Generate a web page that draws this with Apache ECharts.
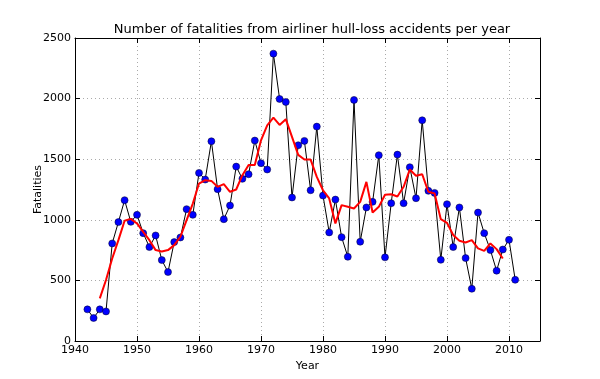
<!DOCTYPE html>
<html><head><meta charset="utf-8">
<script src="https://cdn.jsdelivr.net/npm/echarts@6/dist/echarts.min.js"></script>
<style>html,body{margin:0;padding:0;background:#fff}#c{width:600px;height:379px}</style>
</head><body><div id="c"></div>
<script>
var years = [1942,1943,1944,1945,1946,1947,1948,1949,1950,1951,1952,1953,1954,1955,1956,1957,1958,1959,1960,1961,1962,1963,1964,1965,1966,1967,1968,1969,1970,1971,1972,1973,1974,1975,1976,1977,1978,1979,1980,1981,1982,1983,1984,1985,1986,1987,1988,1989,1990,1991,1992,1993,1994,1995,1996,1997,1998,1999,2000,2001,2002,2003,2004,2005,2006,2007,2008,2009,2010,2011];
var fatalities = [261,190,261,244,805,981,1162,983,1041,890,775,871,668,569,816,854,1088,1041,1387,1332,1648,1253,1005,1118,1439,1338,1376,1654,1467,1415,2371,1997,1972,1184,1615,1651,1244,1769,1200,896,1167,857,695,1989,819,1102,1148,1533,690,1137,1538,1137,1434,1178,1821,1239,1222,670,1129,775,1102,684,431,1060,890,750,580,755,835,505];
var avgYears = [1944,1945,1946,1947,1948,1949,1950,1951,1952,1953,1954,1955,1956,1957,1958,1959,1960,1961,1962,1963,1964,1965,1966,1967,1968,1969,1970,1971,1972,1973,1974,1975,1976,1977,1978,1979,1980,1981,1982,1983,1984,1985,1986,1987,1988,1989,1990,1991,1992,1993,1994,1995,1996,1997,1998,1999,2000,2001,2002,2003,2004,2005,2006,2007,2008,2009];
var movingAvg = [352,503,681,832,992,1008,970,901,832,750,739,750,791,860,997,1134,1299,1327,1321,1272,1294,1231,1250,1368,1453,1453,1656,1780,1843,1783,1830,1684,1536,1497,1497,1354,1244,1176,970,1121,1107,1093,1148,1313,1060,1107,1207,1211,1192,1272,1415,1363,1376,1231,1217,1005,975,874,827,813,832,764,744,805,758,681];
var xTicks = [1940,1950,1960,1970,1980,1990,2000,2010];
var yTicks = [0,500,1000,1500,2000,2500];

var font = 'DejaVu Sans';
var chart = echarts.init(document.getElementById('c'), null, {renderer:'canvas'});
function pairs(xs, ys){ return xs.map(function(x,i){return [x, ys[i]];}); }
var axisCommon = {
  axisLine:{show:true,onZero:false,lineStyle:{color:'#000',width:1}},
  axisTick:{show:true,inside:true,length:5,lineStyle:{color:'#000'}}
};
chart.setOption({
  animation:false,
  title:{text:'Number of fatalities from airliner hull-loss accidents per year',left:307,top:18,textAlign:'center',
    textStyle:{fontFamily:font,fontSize:13,fontWeight:'normal',color:'#000'}},
  grid:{left:75,right:60,top:38,bottom:38},
  xAxis:[
    Object.assign({type:'value',min:1940,max:2015,interval:10,name:'Year',nameLocation:'middle',nameGap:19,
      nameTextStyle:{fontFamily:font,fontSize:11,color:'#000'},
      axisLabel:{fontFamily:font,fontSize:11,color:'#000',margin:4,showMaxLabel:false,
        formatter:function(v){return xTicks.indexOf(v)>=0?String(v):'';}},
      splitLine:{show:true,lineStyle:{color:'#aaa',type:[1,3],width:1}}}, axisCommon),
    Object.assign({type:'value',min:1940,max:2015,interval:10,position:'top',axisLabel:{show:false},splitLine:{show:false}}, axisCommon)
  ],
  yAxis:[
    Object.assign({type:'value',min:0,max:2500,interval:500,name:'Fatalities',nameLocation:'middle',nameGap:31,nameMoveOverlap:false,
      nameTextStyle:{fontFamily:font,fontSize:11,color:'#000'},
      axisLabel:{fontFamily:font,fontSize:11,color:'#000',margin:4,
        formatter:function(v){return yTicks.indexOf(v)>=0?String(v):'';}},
      splitLine:{show:true,lineStyle:{color:'#aaa',type:[1,3],width:1}}}, axisCommon),
    Object.assign({type:'value',min:0,max:2500,interval:500,position:'right',axisLabel:{show:false},splitLine:{show:false}}, axisCommon)
  ],
  series:[
    {type:'line',data:pairs(years,fatalities),symbol:'circle',symbolSize:7,showAllSymbol:true,
      lineStyle:{color:'#000',width:1},itemStyle:{color:'#0000ff',borderColor:'#000022',borderWidth:0.5},z:3},
    {type:'line',data:pairs(avgYears,movingAvg),symbol:'none',lineStyle:{color:'#ff0000',width:2},z:4}
  ]
});
</script></body></html>
